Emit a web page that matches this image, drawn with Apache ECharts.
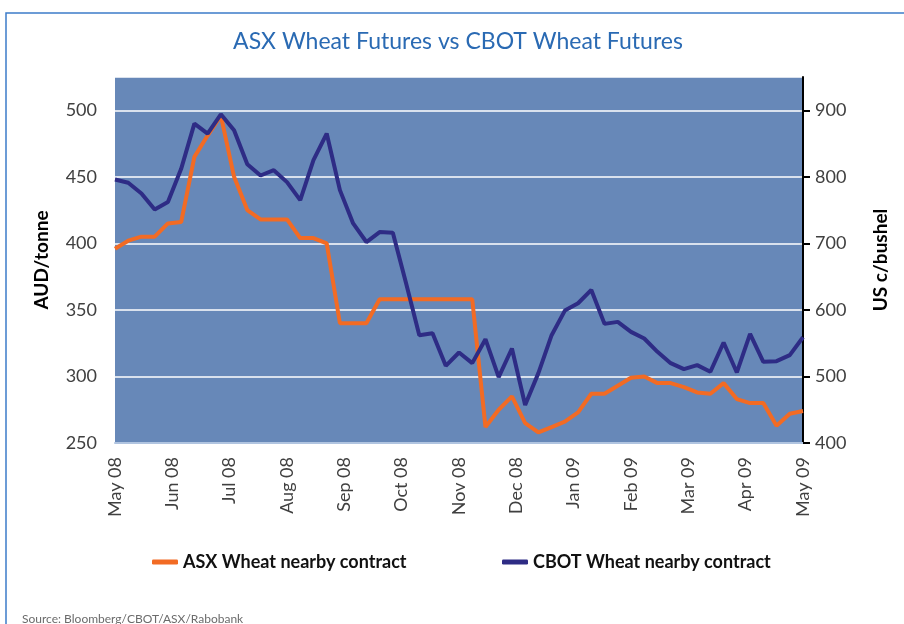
<!DOCTYPE html>
<html>
<head>
<meta charset="utf-8">
<title>ASX Wheat Futures vs CBOT Wheat Futures</title>
<script src="https://cdn.jsdelivr.net/npm/echarts@6/dist/echarts.min.js"></script>
<style>
  html, body { margin: 0; padding: 0; background: #fff; }
  #chart { width: 904px; height: 624px; }
</style>
</head>
<body>
<div id="chart"></div>
<script>
// month labels along the bottom (weekly data, May 08 - May 09)
var monthLabels = ["May 08", "Jun 08", "Jul 08", "Aug 08", "Sep 08", "Oct 08", "Nov 08",
  "Dec 08", "Jan 09", "Feb 09", "Mar 09", "Apr 09", "May 09"];

// ASX Wheat nearby contract, AUD/tonne (left axis)
var asxWheat = [396, 402, 405, 405, 415, 416, 465, 481, 496, 450, 425, 418, 418,
  418, 404, 404, 400, 340, 340, 340, 358, 358, 358, 358, 358, 358, 358,
  358, 262, 275, 285, 265, 258, 262, 266, 273, 287, 287, 293, 299,
  300, 295, 295, 292, 288, 287, 295, 283, 280, 280, 263, 272, 274];

// CBOT Wheat nearby contract, US c/bushel (right axis)
var cbotWheat = [796, 791, 775, 751, 762, 812, 880, 865, 894, 870, 819, 802, 810,
  792, 765, 825, 865, 780, 730, 702, 717, 716, 640, 562, 565, 516, 536,
  520, 556, 499, 542, 457, 505, 562, 599, 610, 630, 579, 582, 567,
  557, 537, 520, 511, 517, 507, 551, 506, 564, 522, 523, 532, 559];

var asxName = "ASX Wheat nearby contract";
var cbotName = "CBOT Wheat nearby contract";

// put the weekly points on a month scale (0 = May 08, 12 = May 09)
function toPoints(arr) {
  var n = arr.length - 1;
  return arr.map(function (v, i) { return [i * 12 / n, v]; });
}

var font = "Lato, 'Open Sans', sans-serif";
var chart = echarts.init(document.getElementById("chart"), null, { renderer: "canvas" });

var option = {
  animation: false,
  backgroundColor: "#ffffff",
  title: [
    {
      text: "ASX Wheat Futures vs CBOT Wheat Futures",
      left: 453,
      top: 25,
      textAlign: "center",
      textStyle: { fontFamily: font, fontWeight: "normal", fontSize: 23, color: "#2a6ab3" }
    },
    {
      text: "Source: Bloomberg/CBOT/ASX/Rabobank",
      left: 17,
      top: 608,
      textStyle: { fontFamily: font, fontWeight: "normal", fontSize: 12, color: "#6b6b6b" }
    }
  ],
  graphic: [
    {
      type: "polyline",
      silent: true,
      shape: { points: [[904, 13], [6, 13], [6, 624]] },
      style: { stroke: "#3d7cc9", lineWidth: 1.5, fill: null }
    }
  ],
  legend: [
    {
      data: [asxName],
      left: 147,
      top: 548,
      icon: "roundRect",
      itemWidth: 26,
      itemHeight: 5,
      textStyle: { fontFamily: font, fontWeight: "bold", fontSize: 18, color: "#111" }
    },
    {
      data: [cbotName],
      left: 497,
      top: 548,
      icon: "roundRect",
      itemWidth: 26,
      itemHeight: 5,
      textStyle: { fontFamily: font, fontWeight: "bold", fontSize: 18, color: "#111" }
    }
  ],
  grid: {
    left: 115,
    right: 101,
    top: 77,
    bottom: 181,
    show: true,
    backgroundColor: "#6788b8",
    borderWidth: 0
  },
  xAxis: {
    type: "value",
    min: 0,
    max: 12,
    interval: 1,
    axisLine: { show: true, lineStyle: { color: "#b0c4e0", width: 2 } },
    axisTick: { show: false },
    splitLine: { show: false },
    axisLabel: {
      rotate: 90,
      margin: 14,
      fontFamily: font,
      fontSize: 18,
      color: "#404040",
      formatter: function (v) { return monthLabels[Math.round(v)]; }
    }
  },
  yAxis: [
    {
      type: "value",
      position: "left",
      min: 250,
      max: 525,
      interval: 50,
      name: "AUD/tonne",
      nameLocation: "middle",
      nameGap: 64,
      nameTextStyle: { fontFamily: font, fontWeight: "bold", fontSize: 19, color: "#000" },
      axisLine: { show: false },
      axisTick: { show: false },
      splitLine: { show: true, lineStyle: { color: "#ffffff", width: 1.5 } },
      axisLabel: { showMaxLabel: false, margin: 18, fontFamily: font, fontSize: 18, color: "#404040" }
    },
    {
      type: "value",
      position: "right",
      min: 400,
      max: 950,
      interval: 100,
      name: "US c/bushel",
      nameLocation: "middle",
      nameGap: 68,
      nameRotate: 90,
      nameTextStyle: { fontFamily: font, fontWeight: "bold", fontSize: 19, color: "#000" },
      axisLine: { show: true, lineStyle: { color: "#000", width: 2 } },
      axisTick: { show: true, length: 7, lineStyle: { color: "#000", width: 2 } },
      splitLine: { show: false },
      axisLabel: { showMaxLabel: false, margin: 12, fontFamily: font, fontSize: 18, color: "#404040" }
    }
  ],
  series: [
    {
      name: asxName,
      type: "line",
      yAxisIndex: 0,
      showSymbol: false,
      symbol: "none",
      data: toPoints(asxWheat),
      lineStyle: { color: "#f26b24", width: 4 },
      itemStyle: { color: "#f26b24" }
    },
    {
      name: cbotName,
      type: "line",
      yAxisIndex: 1,
      showSymbol: false,
      symbol: "none",
      data: toPoints(cbotWheat),
      lineStyle: { color: "#2e2c85", width: 4 },
      itemStyle: { color: "#2e2c85" }
    }
  ]
};

chart.setOption(option);
</script>
</body>
</html>
